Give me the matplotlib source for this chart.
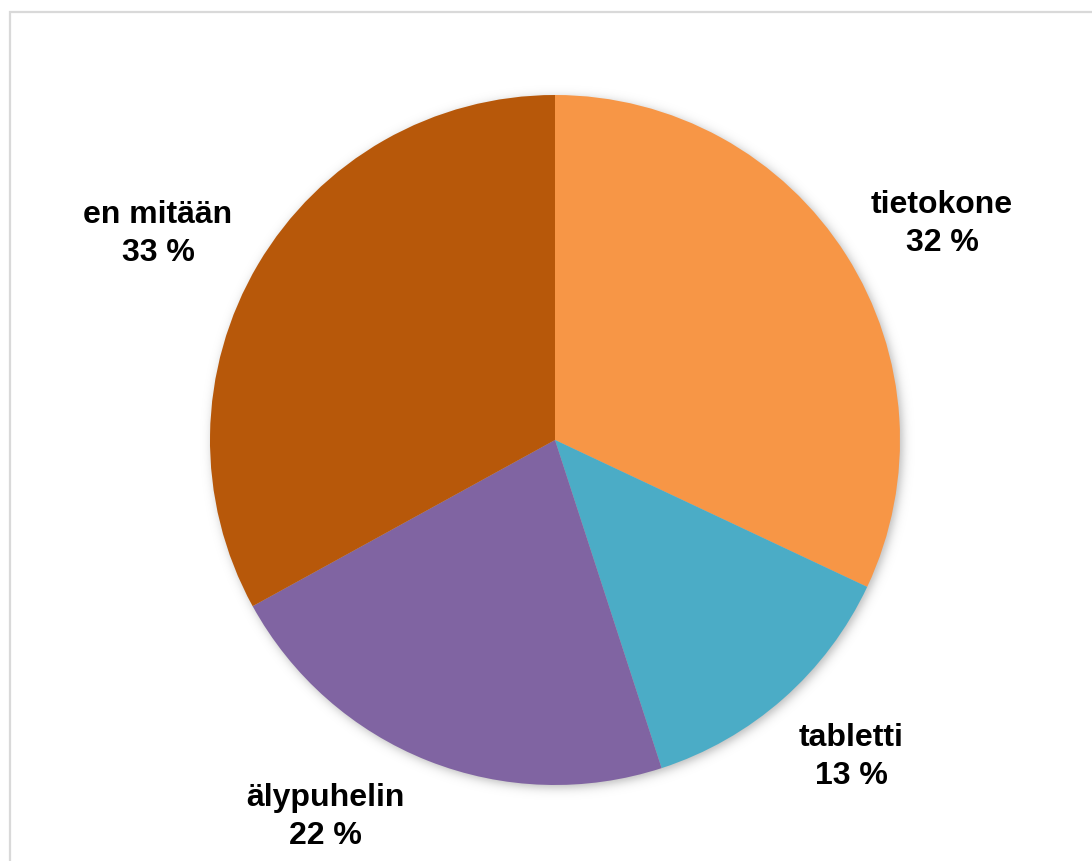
import numpy as np
import matplotlib
matplotlib.use("Agg")
import matplotlib.pyplot as plt
from matplotlib.lines import Line2D

categories = ["tietokone", "tabletti", "älypuhelin", "en mitään"]
shares = [32, 13, 22, 33]
colors = ["#F79646", "#4BACC6", "#8064A2", "#B7580A"]

W, H = 1092, 861
CX, CY, R = 555, 421, 345
LABEL_POS = [(942, 637), (851, 104), (325, 44), (158, 627)]

plt.rcParams["font.family"] = ["Liberation Sans", "DejaVu Sans"]

fig = plt.figure(figsize=(W / 100, H / 100), dpi=100)
ax = fig.add_axes([0, 0, 1, 1])

# soft shadow under the pie
yy, xx = np.mgrid[0:H, 0:W]
d = np.hypot(xx - (CX + 2), yy - (CY - 3))
alpha = 0.28 / (1 + np.exp((d - R) / 3.0))
shade = np.zeros((H, W, 4))
shade[..., 3] = alpha
ax.imshow(shade, extent=(0, W, 0, H), origin="lower", zorder=0)

ax.pie(shares, colors=colors, startangle=90, counterclock=False,
       center=(CX, CY), radius=R, frame=True,
       wedgeprops=dict(linewidth=0, zorder=2))
ax.set_xlim(0, W)
ax.set_ylim(0, H)
ax.set_aspect("equal")
ax.axis("off")

for name, val, (x, y) in zip(categories, shares, LABEL_POS):
    ax.text(x, y, f"{name}\n{val} %", ha="center", va="center",
            fontsize=23, fontweight="bold", color="black", linespacing=1.32)

# chart area border
bx, by = 9.5, H - 11.5
ax.add_line(Line2D([bx, bx, W + 5], [-5, by, by], color="#d9d9d9", lw=1.6,
                   solid_joinstyle="miter", zorder=5))

fig.savefig("out.png", dpi=100, facecolor="white")
